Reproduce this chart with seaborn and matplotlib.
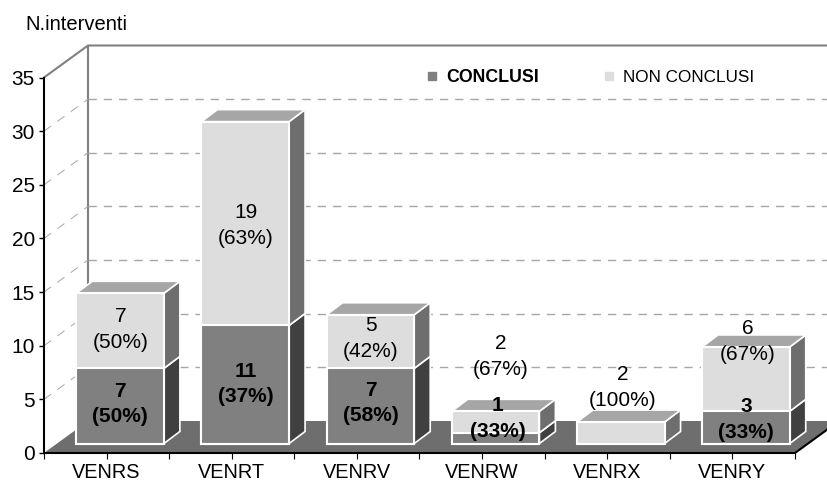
import matplotlib
matplotlib.use("Agg")
import matplotlib.pyplot as plt
import seaborn as sns
from matplotlib.lines import Line2D

# values
venues = ["VENRS", "VENRT", "VENRV", "VENRW", "VENRX", "VENRY"]
conclusi = [7, 11, 7, 1, 0, 3]
non_conclusi = [7, 19, 5, 2, 2, 6]
perc_conclusi = [50, 37, 58, 33, 0, 33]
perc_non_conclusi = [50, 63, 42, 67, 100, 67]
y_ticks = [0, 5, 10, 15, 20, 25, 30, 35]

# label centres, in data units (Excel had them moved by hand)
label_y_dark = [4.56, 6.42, 4.66, 3.2, None, 3.15]
label_y_light = [11.54, 21.24, 10.7, 8.98, 6.08, 10.4]
label_dx_dark = [0.11, 0.11, 0.11, 0.125, 0.0, 0.11]
label_dx_light = [0.11, 0.11, 0.11, 0.15, 0.125, 0.125]

totals = [a + b for a, b in zip(conclusi, non_conclusi)]

DARK = "#808080"
LIGHT = "#DDDDDD"
DARK_SIDE = "#404040"
LIGHT_SIDE = "#6E6E6E"
TOP = "#A6A6A6"
FLOOR = "#6E6E6E"
WALL = "#808080"
GRID = "#A6A6A6"

sns.set_theme(style="white")
plt.rcParams["font.family"] = ["Liberation Sans", "DejaVu Sans"]
plt.rcParams["text.color"] = "black"

W, H = 827, 483
fig = plt.figure(figsize=(W / 100, H / 100), dpi=100)
ax = fig.add_axes([44 / W, (H - 453) / H, (795 - 44) / W, (453 - 77.5) / H])

sns.barplot(x=venues, y=totals, color=LIGHT, saturation=1, width=0.7, ax=ax)
sns.barplot(x=venues, y=conclusi, color=DARK, saturation=1, width=0.7, ax=ax)
ax.set_xlim(-0.5, 5.5)
ax.set_ylim(0, 35)

# px to data units
ux = (795 - 44) / 6
uy = (453 - 77.5) / 35
wall_x, wall_y = 44 / ux, 32 / uy
front_x, front_y = 13.5 / ux, 9.5 / uy
side_x, side_y = 16 / ux, 12 / uy

# move front faces off the front plane, onto the floor
for p in ax.patches:
    p.set_x(p.get_x() + front_x)
    p.set_y(p.get_y() + front_y)
    p.set_edgecolor("white")
    p.set_linewidth(1.5)
    p.set_zorder(5)
    p.set_clip_on(False)

# floor and walls
x0, x1 = -0.5, 5.5
ax.fill([x0, x1, x1 + wall_x, x0 + wall_x], [0, 0, wall_y, wall_y], color=FLOOR, lw=0, zorder=1, clip_on=False)
ax.plot([x0 + wall_x, x0 + wall_x], [wall_y, 35 + wall_y], color=WALL, lw=1.5, zorder=2, clip_on=False)
ax.plot([x0, x0 + wall_x, x1 + wall_x], [35, 35 + wall_y, 35 + wall_y], color=WALL, lw=1.5, zorder=2, clip_on=False)
ax.plot([x1, x1 + wall_x], [0, wall_y], color="black", lw=1.5, zorder=2, clip_on=False)

# dashed grid on back and left walls
for t in y_ticks[1:-1]:
    ax.plot([x0 + wall_x, x1 + wall_x], [t + wall_y, t + wall_y], color=GRID, lw=1.0,
            dashes=(6, 5), zorder=2, clip_on=False)
    ax.plot([x0, x0 + wall_x], [t, t + wall_y], color=GRID, lw=0.7,
            dashes=(9, 8), zorder=2, clip_on=False)

# side and top faces of the bars
for i in range(len(venues)):
    right = i + 0.35 + front_x
    left = i - 0.35 + front_x
    low = front_y
    mid = conclusi[i] + front_y
    high = totals[i] + front_y
    if conclusi[i] > 0:
        ax.fill([right, right + side_x, right + side_x, right],
                [low, low + side_y, mid + side_y, mid],
                facecolor=DARK_SIDE, edgecolor="white", lw=1.2, zorder=4, clip_on=False)
    ax.fill([right, right + side_x, right + side_x, right],
            [mid, mid + side_y, high + side_y, high],
            facecolor=LIGHT_SIDE, edgecolor="white", lw=1.2, zorder=4, clip_on=False)
    ax.fill([left, right, right + side_x, left + side_x],
            [high, high, high + side_y, high + side_y],
            facecolor=TOP, edgecolor="white", lw=1.2, zorder=4, clip_on=False)

    if conclusi[i] > 0:
        ax.text(i + label_dx_dark[i], label_y_dark[i], f"{conclusi[i]}\n({perc_conclusi[i]}%)",
                ha="center", va="center", fontsize=15, fontweight="bold", color="black",
                linespacing=1.45, zorder=8)
    ax.text(i + label_dx_light[i], label_y_light[i], f"{non_conclusi[i]}\n({perc_non_conclusi[i]}%)",
            ha="center", va="center", fontsize=15, color="black", linespacing=1.45, zorder=8)

# axes
sns.despine(ax=ax, top=True, right=True)
for side in ["left", "bottom"]:
    ax.spines[side].set_color("black")
    ax.spines[side].set_linewidth(1.5)
    ax.spines[side].set_zorder(6)
ax.patch.set_alpha(0)
ax.set_yticks(y_ticks)
ax.set_xticks(range(len(venues)), venues)
ax.set_xticks([i - 0.5 for i in range(len(venues) + 1)], minor=True)
ax.tick_params(axis="y", left=True, length=3.5, width=1, color="black", labelsize=15, pad=3, labelcolor="black")
ax.tick_params(axis="x", which="major", bottom=True, length=8, width=0.8, direction="inout", color="black",
               labelsize=14.3, pad=3, labelcolor="black")
ax.tick_params(axis="x", which="minor", bottom=True, length=4.5, width=0.8, color="black")
ax.set_xlabel("")
ax.set_ylabel("")

fig.text(25 / W, 1 - 25 / H, "N.interventi", fontsize=14.5, color="black", ha="left", va="center")

handles = [
    Line2D([], [], ls="none", marker="s", ms=6, color=DARK),
    Line2D([], [], ls="none", marker="s", ms=6, color=LIGHT),
]
leg = ax.legend(handles, ["CONCLUSI", "NON CONCLUSI"], ncol=2, frameon=False, fontsize=12.8,
                loc="center left", bbox_to_anchor=((421 - 44) / (795 - 44), 1),
                handletextpad=0.2, columnspacing=3.33, handlelength=1.2, borderpad=0, borderaxespad=0,
                labelcolor="black")
leg.get_texts()[0].set_fontweight("bold")
leg.get_texts()[1].set_fontsize(12.3)
leg.set_zorder(9)

fig.savefig("out.png", dpi=100)
